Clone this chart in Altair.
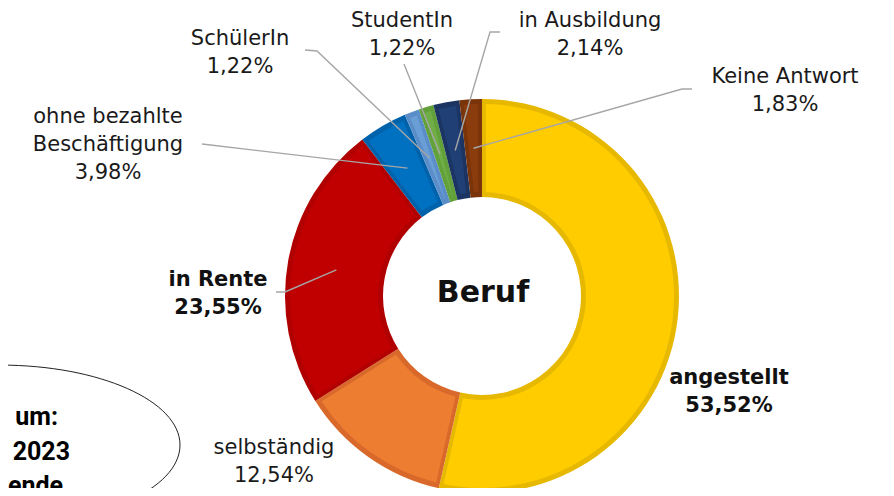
import math
import altair as alt
import pandas as pd

# ---------------- data ----------------
categories = ["angestellt", "selbständig", "in Rente", "ohne bezahlte Beschäftigung",
              "SchülerIn", "StudentIn", "in Ausbildung", "Keine Antwort"]
values = [53.52, 12.54, 23.55, 3.98, 1.22, 1.22, 2.14, 1.83]
label_lines = [["angestellt"], ["selbständig"], ["in Rente"], ["ohne bezahlte", "Beschäftigung"],
               ["SchülerIn"], ["StudentIn"], ["in Ausbildung"], ["Keine Antwort"]]
bold_label = [True, False, True, False, False, False, False, False]
center_title = "Beruf"
note_lines = ["um:", "2023", "ende"]

# ---------------- styles / layout ----------------
fill_colors = ["#FFCC00", "#ED7D31", "#C00000", "#0070C0", "#6A9FD6", "#70AD47", "#203F74", "#8B3C0C"]
border_colors = ["#E6B800", "#D9692A", "#B00000", "#0062AA", "#5B8EC8", "#62A03A", "#1B3462", "#7A340A"]

W, H = 878, 480
M = 8  # page margin
CX, CY = 482, 296
R_OUT, R_IN = 197, 99
ANCHOR_R = 148
LINE_H = 28
label_pos = [(729, 378), (274, 448), (218, 280), (108, 117), (240, 39), (402, 21), (590, 21), (785, 77)]
leader_start = {2: [(276, 292), (285, 292)], 3: [(202, 144)], 4: [(305, 50), (317, 51)],
                5: [(404, 64)], 6: [(500, 32), (490, 32)], 7: [(692, 89), (682, 89)]}
note_pos = [(58, 417), (70, 452), (63, 486)]

xs = alt.Scale(domain=[M, M + W], nice=False, zero=False)
ys = alt.Scale(domain=[M, M + H], nice=False, zero=False, reverse=True)

# ---------------- tables ----------------
arc_df = pd.DataFrame({"idx": range(len(categories)), "cat": categories, "value": values})

total = sum(values)
text_rows, line_rows = [], []
cum = 0.0
for i, (cat, v) in enumerate(zip(categories, values)):
    mid = 2 * math.pi * (cum + v / 2) / total
    cum += v
    pct = f"{v:.2f}".replace(".", ",") + "%"
    lines = label_lines[i] + [pct]
    lx, ly = label_pos[i]
    for k, t in enumerate(lines):
        text_rows.append({"x": lx, "y": ly + k * LINE_H, "text": t, "bold": bold_label[i]})
    if i in leader_start:
        pts = leader_start[i] + [(CX + ANCHOR_R * math.sin(mid), CY - ANCHOR_R * math.cos(mid))]
        for s, (px, py) in enumerate(pts):
            line_rows.append({"cat": cat, "seq": s, "x": px, "y": py})

text_df = pd.DataFrame(text_rows)
line_df = pd.DataFrame(line_rows)
note_df = pd.DataFrame({"text": note_lines, "x": [p[0] for p in note_pos], "y": [p[1] for p in note_pos]})
title_df = pd.DataFrame({"text": [center_title], "x": [CX + 1], "y": [CY - 3]})

# ---------------- layers ----------------
theta = alt.Theta("value:Q", stack=True)
order = alt.Order("idx:Q")

ring_border = alt.Chart(arc_df).mark_arc(outerRadius=R_OUT, innerRadius=R_IN).encode(
    theta=theta, order=order,
    color=alt.Color("cat:N", scale=alt.Scale(domain=categories, range=border_colors), legend=None),
    x=alt.value(CX - M), y=alt.value(CY - M),
)
ring_fill = alt.Chart(arc_df).mark_arc(outerRadius=R_OUT - 5, innerRadius=R_IN + 5, padAngle=0.035).encode(
    theta=theta, order=order,
    color=alt.Color("cat:N", scale=alt.Scale(domain=categories, range=fill_colors), legend=None),
    x=alt.value(CX - M), y=alt.value(CY - M),
)

leaders = alt.Chart(line_df).mark_line(color="#A6A6A6", strokeWidth=1.4).encode(
    x=alt.X("x:Q", scale=xs, axis=None), y=alt.Y("y:Q", scale=ys, axis=None),
    detail="cat:N", order="seq:Q",
)

txt_regular = alt.Chart(text_df).transform_filter("!datum.bold").mark_text(
    font="DejaVu Sans", fontSize=21, color="#1a1a1a", align="center", baseline="middle"
).encode(x=alt.X("x:Q", scale=xs, axis=None), y=alt.Y("y:Q", scale=ys, axis=None), text="text:N")

txt_bold = alt.Chart(text_df).transform_filter("datum.bold").mark_text(
    font="DejaVu Sans", fontSize=21, fontWeight="bold", color="#111111", align="center", baseline="middle"
).encode(x=alt.X("x:Q", scale=xs, axis=None), y=alt.Y("y:Q", scale=ys, axis=None), text="text:N")

title = alt.Chart(title_df).mark_text(
    font="DejaVu Sans", fontSize=30, fontWeight="bold", color="#111111", align="center", baseline="middle"
).encode(x=alt.X("x:Q", scale=xs, axis=None), y=alt.Y("y:Q", scale=ys, axis=None), text="text:N")

ellipse = alt.Chart(pd.DataFrame({"k": [0]})).mark_point(
    shape="M -1 0 A 1 0.444 0 1 0 1 0 A 1 0.444 0 1 0 -1 0 Z",
    size=360 * 360, filled=False, stroke="#222222", strokeWidth=1, opacity=1,
).encode(x=alt.value(0 - M), y=alt.value(445 - M))

note = alt.Chart(note_df).mark_text(
    font="Roboto", fontSize=25, fontWeight="bold", color="#000000", align="right", baseline="middle"
).encode(x=alt.X("x:Q", scale=xs, axis=None), y=alt.Y("y:Q", scale=ys, axis=None), text="text:N")

chart = alt.layer(
    ring_border, ring_fill, leaders, txt_regular, txt_bold, title, ellipse, note
).resolve_scale(color="independent").properties(
    width=W, height=H, padding=0, autosize=alt.AutoSizeParams(type="none")
).configure_view(stroke=None)

chart.save("out.html", embed_options={"renderer": "svg", "actions": False})
